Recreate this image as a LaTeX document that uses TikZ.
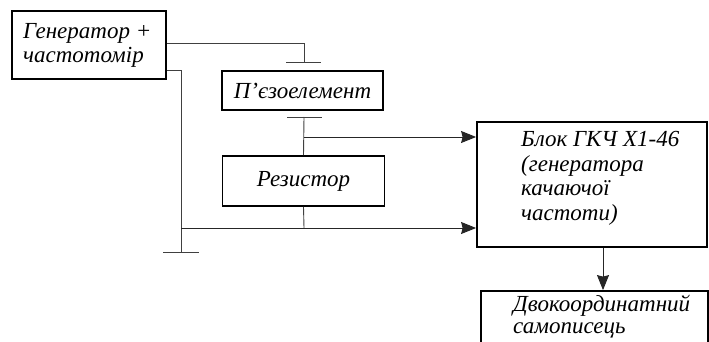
\documentclass[tikz,border=0pt]{standalone}
\usepackage{fontspec}
\setmainfont{Liberation Serif}
\usetikzlibrary{arrows.meta}
\begin{document}
\begin{tikzpicture}[x=1pt,y=-1pt,
  box/.style={draw=black, line width=1.8pt, inner sep=0pt},
  wire/.style={draw=black!75, line width=0.9pt},
  arr/.style={draw=black!85, line width=0.9pt, -{Stealth[inset=1.5pt,length=15pt,width=12pt]}},
  txt/.style={font=\fontsize{23}{24.5}\selectfont\itshape, align=left, inner sep=0pt}]
\useasboundingbox (0,0) rectangle (709,342);
\clip (0,0) rectangle (709,342);
% boxes
\node[box, minimum width=154pt, minimum height=68pt] (gen) at (89,45) {};
\node[txt, font=\fontsize{23}{24}\selectfont\itshape, anchor=base west] (gentxt) at (23,63) {Генератор +\\частотомір};
\node[box, minimum width=161pt, minimum height=39pt, txt] (piezo) at (302.5,90.5) {П’єзоелемент};
\node[box, minimum width=162pt, minimum height=50pt, txt] (res) at (303.5,181) {Резистор};
\node[box, minimum width=230pt, minimum height=125pt] (block) at (592,184.5) {};
\node[txt, anchor=base west] (blocktxt) at (521,220) {Блок ГКЧ Х1-46\\(генератора\\качаючої\\частоти)};
\node[box, minimum width=227pt, minimum height=80pt] (rec) at (594.5,331) {};
\node[txt, font=\fontsize{23}{21.5}\selectfont\itshape, anchor=base west] (rectxt) at (513,333) {Двокоординатний\\самописець};
% T terminals and ground
\coordinate (t1) at (304,62);
\coordinate (t2) at (304,117);
\coordinate (gnd) at (181,252);
\draw[wire] (286,62) -- (321,62);
\draw[wire] (287,117) -- (322,117);
\draw[wire] (163,252) -- (199,252);
% wires
\draw[wire] ([yshift=2pt]gen.east) -| (t1);
\draw[wire] ([yshift=-25pt]gen.east) -| (gnd);
\draw[wire] (t2) -- (res.north);
\draw[wire] (res.south) -- (304,228);
\draw[arr] (304,137) -- (block.west |- 0,137);
\draw[arr] (181,228) -- (block.west |- 0,228);
\draw[arr] (block.south -| 603,0) -- (rec.north -| 603,0);
\end{tikzpicture}
\end{document}
